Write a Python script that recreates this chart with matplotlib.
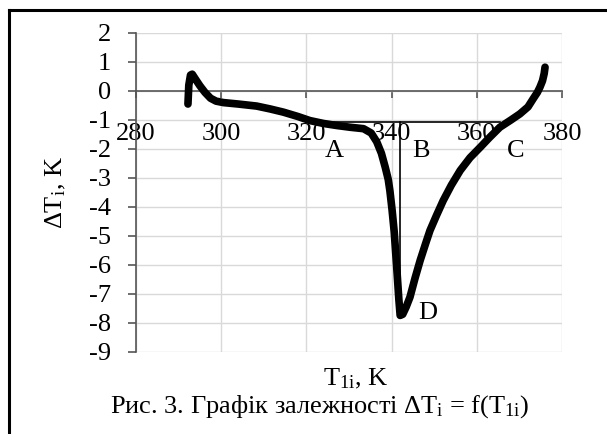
import matplotlib
matplotlib.use("Agg")
import matplotlib.pyplot as plt
from matplotlib.lines import Line2D

plt.rcParams['font.family'] = ['Liberation Serif', 'DejaVu Serif']
plt.rcParams['mathtext.fontset'] = 'custom'
plt.rcParams['mathtext.rm'] = 'Liberation Serif'
plt.rcParams['mathtext.it'] = 'Liberation Serif:italic'
plt.rcParams['axes.unicode_minus'] = False

# ================= DATA =================
t1 = [292.2, 292.4, 292.8, 293.2, 294.0, 295.0, 296.2, 297.5, 298.8, 300.5,
      304.0, 308.3, 311.5, 314.6, 318.0, 320.8, 324.0, 327.1, 330.2, 333.4,
      335.2, 336.5, 337.6, 338.5, 339.2, 339.6, 340.1, 340.6, 341.2, 341.7,
      342.0, 342.6, 343.4, 344.3, 345.5, 346.7, 348.0, 349.0, 350.5, 352.1,
      354.0, 356.1, 358.4, 360.8, 363.0, 365.4, 368.0, 370.1, 372.0, 373.3,
      374.2, 374.8, 375.4, 375.8, 376.0]
dT = [-0.45, 0.20, 0.55, 0.58, 0.40, 0.18, -0.05, -0.25, -0.35, -0.40,
      -0.45, -0.52, -0.62, -0.73, -0.88, -1.02, -1.12, -1.19, -1.25, -1.30,
      -1.45, -1.75, -2.15, -2.63, -3.05, -3.45, -4.10, -4.85, -6.10, -7.20,
      -7.74, -7.70, -7.45, -7.11, -6.45, -5.84, -5.25, -4.81, -4.30, -3.78,
      -3.25, -2.74, -2.30, -1.94, -1.60, -1.25, -1.00, -0.79, -0.55, -0.25,
      -0.05, 0.13, 0.35, 0.60, 0.82]

x_ticks = [280, 300, 320, 340, 360, 380]
y_ticks = [2, 1, 0, -1, -2, -3, -4, -5, -6, -7, -8, -9]
y_tick_labels = ['2', '1', '0', '-1', '-2', '-3', '-4', '-5', '-6', '-7', '-8', '-9']

# baseline A-C and peak B-D
base_x = [320.0, 365.4]
base_y = -1.07
peak_x = 342.0
peak_y = -7.74

points = ['A', 'B', 'C', 'D']
point_x = [326.5, 346.9, 369.2, 348.5]
point_y = [-2.07, -2.07, -2.07, -7.65]

FS = 19

# ================= FIGURE =================
fig = plt.figure(figsize=(6.07, 4.34), dpi=100)
ax = fig.add_axes([0.224, 0.189, 0.702, 0.735])

ax.set_xlim(280, 380)
ax.set_ylim(-9, 2)

ax.grid(True, color='#d9d9d9', lw=1.0)
ax.set_axisbelow(True)

for s in ['top', 'right']:
    ax.spines[s].set_visible(False)
ax.spines['bottom'].set_position(('data', 0))
ax.spines['bottom'].set_color('#555555')
ax.spines['left'].set_color('#555555')
ax.spines['bottom'].set_linewidth(1.2)
ax.spines['left'].set_linewidth(1.2)

ax.set_xticks(x_ticks)
ax.set_yticks(y_ticks)
ax.set_yticklabels(y_tick_labels)
ax.tick_params(axis='x', direction='out', length=5, width=1.2,
               color='#555555', pad=18, labelsize=FS)
ax.tick_params(axis='y', direction='out', length=6, width=1.2,
               color='#555555', pad=12, labelsize=FS)

# curve
ax.plot(t1, dT, color='black', lw=5.5, solid_capstyle='round',
        solid_joinstyle='round', zorder=3)

# annotation lines
ax.plot(base_x, [base_y, base_y], color='black', lw=1.2, zorder=4)
ax.plot([peak_x, peak_x], [base_y, peak_y], color='black', lw=1.2, zorder=4)

for name, px, py in zip(points, point_x, point_y):
    ax.text(px, py, name, ha='center', va='center', fontsize=FS, zorder=5)

ax.set_ylabel(r'$\Delta\mathrm{T}_\mathrm{i}$, K', fontsize=FS)
ax.yaxis.set_label_coords(-0.16, 0.5)
ax.set_xlabel(r'$\mathrm{T}_\mathrm{1i}$, K', fontsize=FS)
ax.xaxis.set_label_coords(0.515, -0.045)

fig.text(0.527, 0.063,
         r'Рис. 3. Графік залежності $\Delta\mathrm{T}_\mathrm{i}$ = f($\mathrm{T}_\mathrm{1i}$)',
         ha='center', va='center', fontsize=FS)

# outer frame (cut off at right and bottom)
fx = 9 / 607
fy = 1 - 10 / 434
fig.add_artist(Line2D([fx, 1.0], [fy, fy], color='black', lw=2.2,
                      transform=fig.transFigure))
fig.add_artist(Line2D([fx, fx], [0.0, fy], color='black', lw=2.2,
                      transform=fig.transFigure))

fig.savefig('out.png', dpi=100)
